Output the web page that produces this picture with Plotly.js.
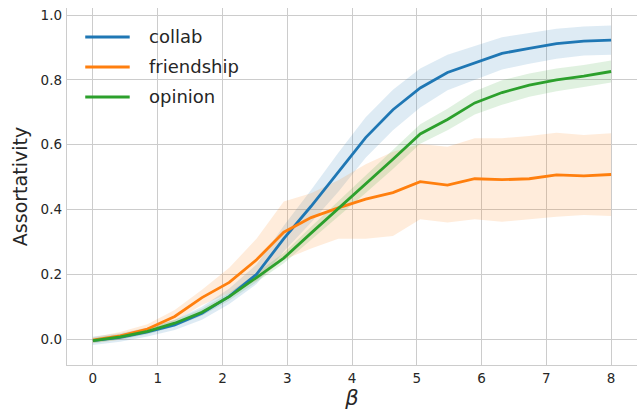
<!DOCTYPE html>
<html>
<head>
<meta charset="utf-8">
<script src="https://cdn.plot.ly/plotly-3.0.1.min.js"></script>
<style>
  html, body { margin: 0; padding: 0; background: #ffffff; }
  #chart { width: 637px; height: 410px; }
</style>
</head>
<body>
<div id="chart"></div>
<script>
// beta values sampled along the x axis
const beta = [0.000, 0.421, 0.842, 1.263, 1.684, 2.105, 2.526, 2.947, 3.368, 3.789,
              4.211, 4.632, 5.053, 5.474, 5.895, 6.316, 6.737, 7.158, 7.579, 8.000];

// collab: mean assortativity and confidence band
const collabMean  = [-0.005, 0.005, 0.022, 0.044, 0.080, 0.132, 0.200, 0.310, 0.410, 0.515,
                     0.622, 0.708, 0.775, 0.823, 0.852, 0.882, 0.897, 0.912, 0.920, 0.923];
const collabLower = [-0.018, -0.008, 0.008, 0.028, 0.060, 0.108, 0.170, 0.270, 0.360, 0.455,
                     0.560, 0.645, 0.715, 0.768, 0.800, 0.832, 0.850, 0.865, 0.875, 0.878];
const collabUpper = [0.008, 0.018, 0.036, 0.060, 0.100, 0.156, 0.230, 0.350, 0.460, 0.575,
                     0.685, 0.770, 0.835, 0.878, 0.905, 0.932, 0.945, 0.958, 0.965, 0.968];

// friendship
const friendMean  = [-0.003, 0.010, 0.031, 0.070, 0.128, 0.175, 0.245, 0.330, 0.375, 0.405,
                     0.432, 0.452, 0.486, 0.475, 0.495, 0.492, 0.495, 0.507, 0.504, 0.508];
const friendLower = [-0.012, -0.002, 0.018, 0.055, 0.105, 0.142, 0.180, 0.245, 0.280, 0.310,
                     0.310, 0.318, 0.370, 0.360, 0.370, 0.362, 0.370, 0.378, 0.383, 0.380];
const friendUpper = [0.006, 0.022, 0.046, 0.090, 0.152, 0.220, 0.310, 0.425, 0.450, 0.490,
                     0.540, 0.578, 0.602, 0.594, 0.620, 0.620, 0.627, 0.637, 0.630, 0.635];

// opinion
const opinionMean  = [-0.005, 0.007, 0.024, 0.049, 0.083, 0.131, 0.190, 0.250, 0.327, 0.402,
                      0.478, 0.555, 0.633, 0.678, 0.729, 0.761, 0.784, 0.800, 0.812, 0.826];
const opinionLower = [-0.013, -0.001, 0.015, 0.039, 0.072, 0.119, 0.176, 0.234, 0.307, 0.378,
                      0.451, 0.525, 0.603, 0.645, 0.693, 0.723, 0.748, 0.765, 0.778, 0.792];
const opinionUpper = [0.003, 0.015, 0.033, 0.059, 0.094, 0.143, 0.204, 0.266, 0.347, 0.426,
                      0.505, 0.585, 0.663, 0.711, 0.765, 0.799, 0.820, 0.835, 0.846, 0.860];

const seriesNames = ['collab', 'friendship', 'opinion'];
const xTickVals = [0, 1, 2, 3, 4, 5, 6, 7, 8];
const yTickVals = [0.0, 0.2, 0.4, 0.6, 0.8, 1.0];

const series = [
  { name: seriesNames[0], mean: collabMean,  lo: collabLower,  hi: collabUpper,  color: '#1f77b4', band: 'rgba(31,119,180,0.15)' },
  { name: seriesNames[1], mean: friendMean,  lo: friendLower,  hi: friendUpper,  color: '#ff7f0e', band: 'rgba(255,127,14,0.15)' },
  { name: seriesNames[2], mean: opinionMean, lo: opinionLower, hi: opinionUpper, color: '#2ca02c', band: 'rgba(44,160,44,0.15)' }
];

const traces = [];
// shaded bands first, so the lines sit on top
series.forEach(s => {
  traces.push({
    x: beta.concat(beta.slice().reverse()),
    y: s.hi.concat(s.lo.slice().reverse()),
    type: 'scatter', mode: 'lines', fill: 'toself',
    fillcolor: s.band, line: { width: 0, color: 'rgba(0,0,0,0)' },
    hoverinfo: 'skip', showlegend: false
  });
});
series.forEach(s => {
  traces.push({
    x: beta, y: s.mean, name: s.name,
    type: 'scatter', mode: 'lines',
    line: { color: s.color, width: 2.8 },
    showlegend: false
  });
});

// legend drawn in paper coordinates: a short line sample and a label per series
const legendRows = [0.919, 0.835, 0.751];
const shapes = [];
const annotations = [];
series.forEach((s, i) => {
  shapes.push({
    type: 'line', xref: 'paper', yref: 'paper',
    x0: 0.032, x1: 0.110, y0: legendRows[i], y1: legendRows[i],
    line: { color: s.color, width: 3 }
  });
  annotations.push({
    xref: 'paper', yref: 'paper', x: 0.140, y: legendRows[i],
    xanchor: 'left', yanchor: 'middle', showarrow: false,
    text: s.name, font: { size: 18, color: '#262626' }
  });
});

const layout = {
  width: 637, height: 410,
  margin: { l: 67, r: 0, t: 8, b: 45 },
  paper_bgcolor: '#ffffff', plot_bgcolor: '#ffffff',
  font: { family: 'DejaVu Sans, sans-serif', color: '#262626' },
  showlegend: false,
  shapes: shapes,
  annotations: annotations,
  xaxis: {
    range: [-0.4, 8.4],
    tickvals: xTickVals,
    ticktext: xTickVals.map(String),
    showgrid: true, gridcolor: '#cccccc', gridwidth: 1,
    zeroline: false,
    showline: true, linecolor: '#cccccc', linewidth: 1.2,
    ticks: '', ticklabelstandoff: 1,
    tickfont: { size: 13.5, color: '#262626' },
    title: { text: '<i>β</i>', font: { size: 21, color: '#262626' } }
  },
  yaxis: {
    range: [-0.08, 1.022],
    tickvals: yTickVals,
    tickformat: '.1f',
    showgrid: true, gridcolor: '#cccccc', gridwidth: 1,
    zeroline: false,
    showline: true, linecolor: '#cccccc', linewidth: 1.2,
    ticks: '', ticklabelstandoff: 1,
    tickfont: { size: 13.5, color: '#262626' },
    title: { text: 'Assortativity', font: { size: 19, color: '#262626' }, standoff: 8 }
  }
};

Plotly.newPlot('chart', traces, layout, { displayModeBar: false, staticPlot: true });
</script>
</body>
</html>
